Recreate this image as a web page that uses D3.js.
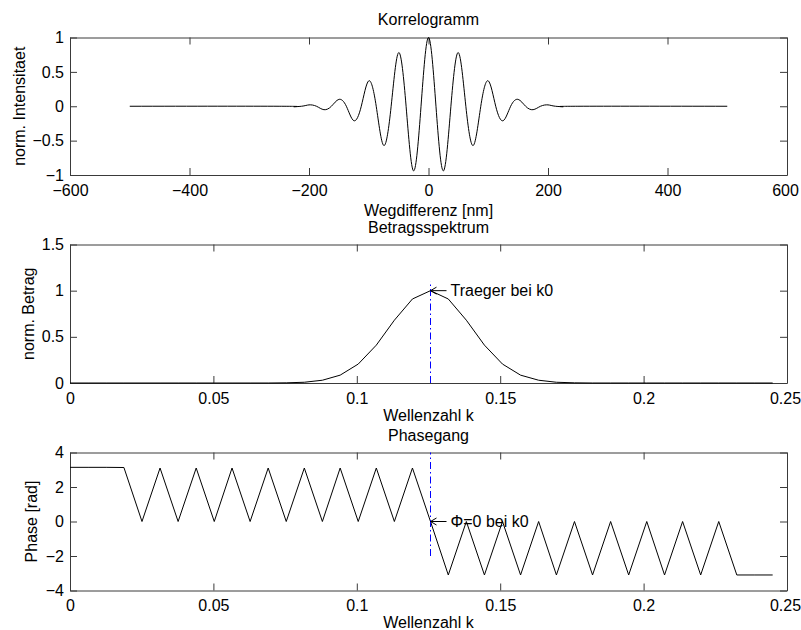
<!DOCTYPE html>
<html><head>
<meta charset="utf-8">
<title>Korrelogramm</title>
<style>
  body, html {
    margin: 0;
    padding: 0;
    background-color: #fff;
  }
  svg text {
    font-family: 'Liberation Sans', Arial, sans-serif;
    font-size: 16px;
    fill: #000;
  }
  .axis path, .axis line {
    stroke: #3a3a3a;
    stroke-width: 1;
  }
  .curve, .arrow {
    fill: none;
    stroke: #000;
    stroke-width: 1;
  }
  .marker {
    fill: none;
    stroke: #0000ff;
    stroke-width: 1;
    stroke-dasharray: 7,3,1.5,3;
  }
</style>
<script src="https://d3js.org/d3.v7.min.js"></script>
</head>
<body>
<script>
// Korrelogramm: Wegdifferenz [nm] vs. norm. Intensitaet
const corrX = [-500, -250,
  -225, -212.5, -200, -187.5, -175, -162.5, -150, -137.5, -125, -112.5,
  -100, -87.5, -75, -62.5, -50, -37.5, -25, -12.5,
  0,
  12.5, 25, 37.5, 50, 62.5, 75, 87.5, 100,
  112.5, 125, 137.5, 150, 162.5, 175, 187.5, 200, 212.5, 225,
  250, 500];
const corrY = [0, 0,
  -0.006, 0, 0.02, 0, -0.05, 0, 0.10, 0, -0.21, 0,
  0.37, 0, -0.57, 0, 0.78, 0, -0.94, 0,
  1,
  0, -0.94, 0, 0.78, 0, -0.57, 0, 0.37,
  0, -0.21, 0, 0.10, 0, -0.05, 0, 0.02, 0, -0.006,
  0, 0];

// Wellenzahl k (sample points of the spectrum)
const waveK = [0, 0.0063, 0.0126, 0.0188, 0.0251, 0.0314, 0.0377, 0.044, 0.0503, 0.0565,
  0.0628, 0.0691, 0.0754, 0.0817, 0.088, 0.0942, 0.1005, 0.1068, 0.1131, 0.1194,
  0.1257, 0.1319, 0.1382, 0.1445, 0.1508, 0.1571, 0.1634, 0.1696, 0.1759, 0.1822,
  0.1885, 0.1948, 0.2011, 0.2073, 0.2136, 0.2199, 0.2262, 0.2325, 0.2388, 0.245];

// Betragsspektrum
const magnitude = [0, 0, 0, 0, 0, 0, 0, 0, 0, 0,
  0, 0, 0.002, 0.008, 0.03, 0.085, 0.205, 0.41, 0.68, 0.91,
  1, 0.91, 0.68, 0.41, 0.205, 0.085, 0.03, 0.008, 0.002, 0,
  0, 0, 0, 0, 0, 0, 0, 0, 0, 0];

// Phasegang [rad]
const phase = [3.14, 3.14, 3.14, 3.13, 0, 3.1, 0, 3.1, 0, 3.1,
  0, 3.1, 0, 3.1, 0, 3.1, 0, 3.1, 0, 3.1,
  0, -3.1, 0, -3.1, 0, -3.1, 0, -3.1, 0, -3.1,
  0, -3.1, 0, -3.1, 0, -3.1, 0, -3.1, -3.1, -3.1];

const k0 = 0.1257;

const corrXTicks = [-600, -400, -200, 0, 200, 400, 600];
const corrYTicks = [-1, -0.5, 0, 0.5, 1];
const kTicks = [0, 0.05, 0.1, 0.15, 0.2, 0.25];
const magTicks = [0, 0.5, 1, 1.5];
const phaseTicks = [-4, -2, 0, 2, 4];

const W = 801, H = 630;
const left = 70, right = 787;
const svg = d3.select("body").append("svg")
  .attr("width", W)
  .attr("height", H);

const fmt = d => String(d).replace("-", "\u2212");

function panel(o) {
  const x = d3.scaleLinear().domain(o.xDomain).range([left, right]);
  const y = d3.scaleLinear().domain(o.yDomain).range([o.bottom, o.top]);
  const g = svg.append("g");
  const tl = 7;

  const xb = g.append("g").attr("class", "axis")
    .attr("transform", `translate(0,${o.bottom})`)
    .call(d3.axisBottom(x).tickValues(o.xTicks).tickFormat(fmt)
      .tickSizeInner(-tl).tickSizeOuter(0).tickPadding(9.5));
  // keep the last label inside the page
  xb.selectAll(".tick:last-of-type text").attr("x", -2);
  g.append("g").attr("class", "axis")
    .attr("transform", `translate(0,${o.top})`)
    .call(d3.axisTop(x).tickValues(o.xTicks).tickFormat("")
      .tickSizeInner(-tl).tickSizeOuter(0));
  g.append("g").attr("class", "axis")
    .attr("transform", `translate(${left},0)`)
    .call(d3.axisLeft(y).tickValues(o.yTicks).tickFormat(fmt)
      .tickSizeInner(-tl).tickSizeOuter(0).tickPadding(6));
  g.append("g").attr("class", "axis")
    .attr("transform", `translate(${right},0)`)
    .call(d3.axisRight(y).tickValues(o.yTicks).tickFormat("")
      .tickSizeInner(-tl).tickSizeOuter(0));

  g.selectAll(".axis text").style("font-size", "16px").style("font-family", "'Liberation Sans', Arial, sans-serif");

  g.append("path")
    .datum(o.xs.map((v, i) => [v, o.ys[i]]))
    .attr("class", "curve")
    .attr("d", d3.line().x(d => x(d[0])).y(d => y(d[1])).curve(o.curve || d3.curveLinear));

  g.append("text")
    .attr("x", (left + right) / 2)
    .attr("y", o.titleY)
    .attr("text-anchor", "middle")
    .text(o.title);
  g.append("text")
    .attr("x", (left + right) / 2)
    .attr("y", o.xLabelY)
    .attr("text-anchor", "middle")
    .text(o.xLabel);
  g.append("text")
    .attr("transform", `translate(${o.yLabelX},${(o.top + o.bottom) / 2}) rotate(-90)`)
    .attr("text-anchor", "middle")
    .text(o.yLabel);

  return {g, x, y};
}

// left-pointing arrow followed by a label, tip at (px, py)
function annotate(p, kx, vy, label) {
  const px = p.x(kx), py = p.y(vy);
  p.g.append("path").attr("class", "arrow")
    .attr("d", `M${px},${py}L${px + 16},${py}M${px + 6},${py - 3.5}L${px},${py}L${px + 6},${py + 3.5}`);
  p.g.append("text")
    .attr("x", px + 20).attr("y", py).attr("dy", "0.35em")
    .text(label);
}

panel({
  xDomain: [-600, 600], yDomain: [-1, 1], top: 37.5, bottom: 175,
  xTicks: corrXTicks, yTicks: corrYTicks,
  xs: corrX, ys: corrY, curve: d3.curveNatural,
  title: "Korrelogramm", titleY: 25,
  xLabel: "Wegdifferenz [nm]", xLabelY: 216,
  yLabel: "norm. Intensitaet", yLabelX: 25
});

const p2 = panel({
  xDomain: [0, 0.25], yDomain: [0, 1.5], top: 244.5, bottom: 383,
  xTicks: kTicks, yTicks: magTicks,
  xs: waveK, ys: magnitude,
  title: "Betragsspektrum", titleY: 232.5,
  xLabel: "Wellenzahl k", xLabelY: 421,
  yLabel: "norm. Betrag", yLabelX: 33.5
});

p2.g.append("line").attr("class", "marker")
  .attr("x1", p2.x(k0)).attr("x2", p2.x(k0))
  .attr("y1", p2.y(0)).attr("y2", p2.y(1.1));
annotate(p2, k0, 1, "Traeger bei k0");

const p3 = panel({
  xDomain: [0, 0.25], yDomain: [-4, 4], top: 452.5, bottom: 590.5,
  xTicks: kTicks, yTicks: phaseTicks,
  xs: waveK, ys: phase,
  title: "Phasegang", titleY: 441,
  xLabel: "Wellenzahl k", xLabelY: 628,
  yLabel: "Phase [rad]", yLabelX: 36.5
});

p3.g.append("line").attr("class", "marker")
  .attr("x1", p3.x(k0)).attr("x2", p3.x(k0))
  .attr("y1", p3.y(-2)).attr("y2", p3.y(4));
annotate(p3, k0, 0, "\u03A6=0 bei k0");
</script>
</body></html>
